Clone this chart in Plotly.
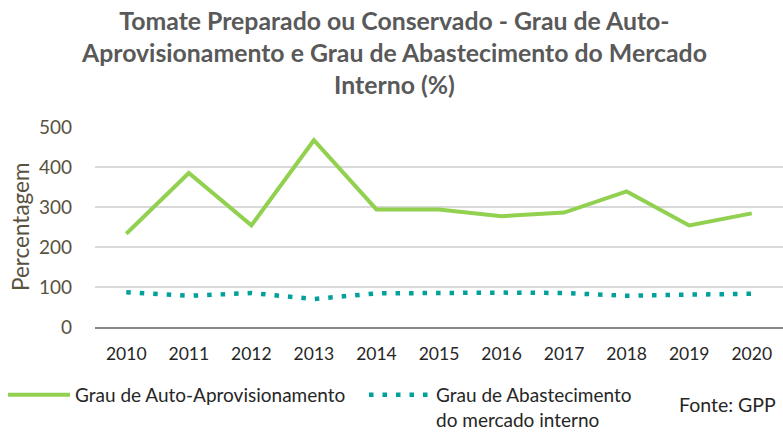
import plotly.graph_objects as go

years = ["2010", "2011", "2012", "2013", "2014", "2015", "2016", "2017", "2018", "2019", "2020"]
auto_aprov = [233, 385, 254, 467, 294, 294, 277, 286, 339, 254, 284]
abastecimento = [87, 78, 85, 70, 84, 86, 86, 85, 78, 81, 83]

series_names = ["Grau de Auto-Aprovisionamento", "Grau de Abastecimento<br>do mercado interno"]
title_text = ("Tomate Preparado ou Conservado - Grau de Auto-<br>"
              "Aprovisionamento e Grau de Abastecimento do Mercado<br>Interno (%)")
y_title = "Percentagem"
source_text = "Fonte: GPP"
y_ticks = [0, 100, 200, 300, 400, 500]

FONT = "Lato"
W, H = 783, 432
ML, MR, MT, MB = 95, 0, 127, 105
PW = W - ML - MR
PH = H - MT - MB


def px_x(px):
    return (px - ML) / PW


def px_y(py):
    return (H - MB - py) / PH


fig = go.Figure()
fig.add_trace(go.Scatter(x=years, y=auto_aprov, mode="lines", name=series_names[0],
                         line=dict(color="#92D050", width=4), legend="legend"))
fig.add_trace(go.Scatter(x=years, y=abastecimento, mode="lines", name=series_names[1],
                         line=dict(color="#00A19A", width=4.5, dash="4.5px,9px"),
                         legend="legend2"))

legend_common = dict(xref="container", yref="container", xanchor="left", yanchor="top",
                     valign="top", itemwidth=62,
                     font=dict(family=FONT, size=19, color="#262626"),
                     bgcolor="rgba(0,0,0,0)")

fig.update_layout(
    width=W, height=H,
    paper_bgcolor="white", plot_bgcolor="white",
    margin=dict(l=ML, r=MR, t=MT, b=MB, autoexpand=False),
    font=dict(family=FONT, size=16, color="#262626"),
    showlegend=True,
    legend=dict(x=3 / W, y=(H - 376) / H, **legend_common),
    legend2=dict(x=364 / W, y=(H - 376) / H, **legend_common),
    xaxis=dict(type="category", range=[-0.5, 10.5], showgrid=False, automargin=False,
               showline=True, linecolor="#888888", linewidth=1.5,
               ticks="", ticklabelstandoff=10,
               tickfont=dict(family=FONT, size=17.5, color="#262626"), fixedrange=True),
    yaxis=dict(range=[0, 500], tickvals=y_ticks, showgrid=True, gridcolor="#D9D9D9",
               gridwidth=2, zeroline=False, showline=False, ticks="", automargin=False,
               ticklabelstandoff=22,
               tickfont=dict(family=FONT, size=19, color="#595241"), fixedrange=True),
)

fig.add_annotation(text="<b>" + title_text + "</b>", xref="paper", yref="paper",
                   x=px_x(394), xanchor="center", y=px_y(52), yanchor="middle",
                   showarrow=False, align="center",
                   font=dict(family=FONT, size=24.8, color="#595959"))

fig.add_annotation(text=y_title, xref="paper", yref="paper", textangle=-90,
                   x=px_x(20), xanchor="center", y=px_y(227), yanchor="middle",
                   showarrow=False, font=dict(family=FONT, size=22.5, color="#595241"))

fig.add_annotation(text=source_text, xref="paper", yref="paper",
                   x=px_x(778), xanchor="right", y=px_y(404), yanchor="middle",
                   showarrow=False, font=dict(family=FONT, size=19.5, color="#262626"))

fig.write_html("out.html", config={"displayModeBar": False},
               post_script="document.body.style.margin='0';document.body.style.padding='0';")
